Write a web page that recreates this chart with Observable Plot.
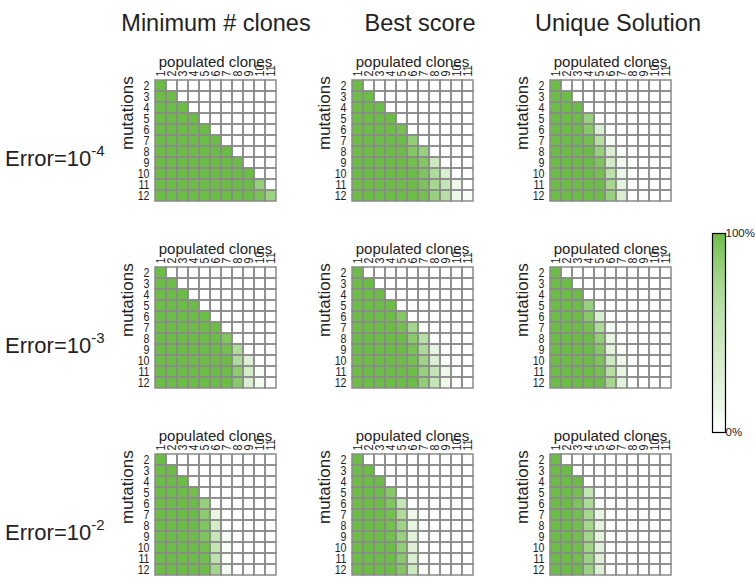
<!DOCTYPE html>
<html><head><meta charset="utf-8">
<script src="https://cdn.jsdelivr.net/npm/d3@7"></script>
<script src="https://cdn.jsdelivr.net/npm/@observablehq/plot@0.6"></script>
<style>
body{margin:0;background:#fff;}
#chart{position:relative;width:755px;height:579px;font-family:"Liberation Sans",Arial,sans-serif;overflow:hidden;color:#222}
.title{position:absolute;font-size:23.5px;text-align:center;width:300px;line-height:1;white-space:nowrap}
.rowlab{position:absolute;font-size:22px;line-height:1;white-space:nowrap}
.rowlab sup{font-size:15px;vertical-align:baseline;position:relative;top:-10px}
.panel{position:absolute}
</style></head><body><div id="chart"></div>
<script>
const mutations = [2,3,4,5,6,7,8,9,10,11,12];
const clones = [1,2,3,4,5,6,7,8,9,10,11];
const methods = ["Minimum # clones","Best score","Unique Solution"];
const titleCenters = [216, 420, 618];
const errorExps = ["-4","-3","-2"];
const legendLabels = ["100%","0%"];
const GREEN = "#6cbd45";

// percent of runs, one row per mutation count (2..12), entries for populated clones 1,2,...
const minClonesE4 = [
  [100],
  [100,100],
  [100,100,100],
  [100,100,100,100],
  [100,100,100,100,100],
  [100,100,100,100,100,100],
  [100,100,100,100,100,100,100],
  [100,100,100,100,100,100,100,100],
  [100,100,100,100,100,100,100,100,100],
  [100,100,100,100,100,100,100,100,100,72],
  [100,100,100,100,100,100,100,100,100,92,68]
];
const bestScoreE4 = [
  [100],
  [100,100],
  [100,100,100],
  [100,100,100,100],
  [100,100,100,100,95],
  [100,100,100,100,100,75],
  [100,100,100,100,100,85,70],
  [100,100,100,100,100,95,85,35],
  [100,100,100,100,100,100,88,55,25],
  [100,100,100,100,100,100,90,60,40,10],
  [100,100,100,100,100,100,95,70,50,12,3]
];
const uniqueE4 = [
  [100],
  [100,100],
  [100,100,100],
  [100,100,100,70],
  [100,100,100,82,25],
  [100,100,100,95,50,5],
  [100,100,100,100,70,25,3],
  [100,100,100,100,88,30,8],
  [100,100,100,100,95,45,12],
  [100,100,100,100,100,60,18],
  [100,100,100,100,100,70,25]
];
const minClonesE3 = [
  [100],
  [100,100],
  [100,100,100],
  [100,100,100,100],
  [100,100,100,100,100],
  [100,100,100,100,100,100],
  [100,100,100,100,100,100,86],
  [100,100,100,100,100,100,95,55],
  [100,100,100,100,100,100,100,55,22],
  [100,100,100,100,100,100,100,78,30,5],
  [100,100,100,100,100,100,100,82,25,8]
];
const bestScoreE3 = [
  [100],
  [100,100],
  [100,100,100],
  [100,100,100,100],
  [100,100,100,100,85],
  [100,100,100,100,95,62],
  [100,100,100,100,100,80,48],
  [100,100,100,100,100,92,55,15],
  [100,100,100,100,100,95,65,25,3],
  [100,100,100,100,100,100,70,40,10],
  [100,100,100,100,100,100,75,40,10]
];
const uniqueE3 = [
  [100],
  [100,100],
  [100,100,100],
  [100,100,100,70],
  [100,100,100,82,25],
  [100,100,100,95,55,5],
  [100,100,100,100,75,15],
  [100,100,100,100,85,20,4],
  [100,100,100,100,90,35,10],
  [100,100,100,100,95,50,15],
  [100,100,100,100,100,60,20]
];
const minClonesE2 = [
  [100],
  [100,100],
  [100,100,100],
  [100,100,100,97],
  [100,100,100,100,70],
  [100,100,100,100,78,15],
  [100,100,100,100,88,30],
  [100,100,100,100,88,40,5],
  [100,100,100,100,95,40,3],
  [100,100,100,100,97,45,3],
  [100,100,100,100,100,62,8]
];
const bestScoreE2 = [
  [100],
  [100,100],
  [100,100,100],
  [100,100,100,82],
  [100,100,100,88,40],
  [100,100,100,95,55,10],
  [100,100,100,95,65,15],
  [100,100,100,95,70,20],
  [100,100,100,100,75,22],
  [100,100,100,100,80,25,3],
  [100,100,100,100,85,35,5]
];
const uniqueE2 = [
  [100],
  [100,100],
  [100,100,100],
  [100,100,95,40],
  [100,100,90,55,5],
  [100,100,95,60,15],
  [100,100,95,62,18],
  [100,100,97,62,18],
  [100,100,97,65,20],
  [100,100,97,68,22],
  [100,100,100,68,25]
];

const panels = [
  [minClonesE4, bestScoreE4, uniqueE4],
  [minClonesE3, bestScoreE3, uniqueE3],
  [minClonesE2, bestScoreE2, uniqueE2]
];

const gridLefts = [151, 348, 546];
const gridTops = [77, 264, 451];
const GW = 128, GH = 126;
const ML = 46, MT = 48, MR = 3, MB = 3;
const FONT = '"Liberation Sans", Arial, sans-serif';

const chart = document.getElementById("chart");
const colorScale = {type: "linear", domain: [0, 100], range: ["#ffffff", GREEN]};
const gridCells = d3.cross(mutations, clones).map(([m, c]) => ({m, c}));

// narrow the tick digits along their reading direction (the reference uses a condensed face)
function condenseTicks(svg) {
  d3.select(svg).selectAll('g[aria-label$="tick label"] text').each(function() {
    const t = this.getAttribute("transform") || "";
    this.setAttribute("transform", t + " scale(0.82,1)");
  });
}

function makePanel(values) {
  const data = [];
  values.forEach((row, i) => row.forEach((v, j) => data.push({m: mutations[i], c: clones[j], v})));
  const svg = Plot.plot({
    width: ML + GW + MR, height: MT + GH + MB,
    marginLeft: ML, marginTop: MT, marginRight: MR, marginBottom: MB,
    style: {fontFamily: FONT, fontSize: "13px", color: "#222", background: "transparent", overflow: "visible"},
    x: {type: "band", domain: clones, padding: 0, axis: null},
    y: {type: "band", domain: mutations, padding: 0, axis: null},
    color: colorScale,
    marks: [
      Plot.cell(data, {x: "c", y: "m", fill: "v", inset: 0}),
      Plot.cell(gridCells, {x: "c", y: "m", fill: "none", stroke: "#8a8a8a", strokeWidth: 1.5, inset: 0}),
      Plot.axisX({anchor: "top", tickSize: 0, tickRotate: -90, tickPadding: 1, label: null, fontSize: 13}),
      Plot.axisY({anchor: "left", tickSize: 0, tickPadding: 2, label: null, fontSize: 13}),
      Plot.text(["populated clones"], {frameAnchor: "top", dy: -21, fontSize: 15, fill: "#222"}),
      Plot.text(["mutations"], {frameAnchor: "left", rotate: -90, dx: -23.5, dy: 9.5, fontSize: 17, fill: "#222"})
    ]
  });
  condenseTicks(svg);
  return svg;
}

panels.forEach((row, r) => row.forEach((vals, c) => {
  const svg = makePanel(vals);
  svg.classList.add("panel");
  svg.style.left = (gridLefts[c] - ML) + "px";
  svg.style.top = (gridTops[r] - MT) + "px";
  chart.appendChild(svg);
}));

methods.forEach((t, c) => {
  const d = document.createElement("div");
  d.className = "title";
  d.textContent = t;
  d.style.left = (titleCenters[c] - 150) + "px";
  d.style.top = "12px";
  chart.appendChild(d);
});

errorExps.forEach((e, r) => {
  const d = document.createElement("div");
  d.className = "rowlab";
  d.innerHTML = "Error=10<sup>" + e + "</sup>";
  d.style.left = "5px";
  d.style.top = (gridTops[r] + 71) + "px";
  chart.appendChild(d);
});

// colour bar legend, drawn from the same colour scale
const legend = Plot.plot({
  width: 60, height: 220,
  marginLeft: 10, marginRight: 37, marginTop: 12, marginBottom: 9,
  style: {fontFamily: FONT, fontSize: "11.5px", color: "#222", background: "transparent", overflow: "visible"},
  x: {axis: null, domain: [0, 1]},
  y: {domain: [0, 100], axis: null},
  color: colorScale,
  marks: [
    Plot.rectY(d3.range(0, 100, 0.5), {x1: 0, x2: 1, y1: d => d, y2: d => d + 0.5, fill: d => d + 0.25}),
    Plot.frame({stroke: "#000", strokeWidth: 1.2}),
    Plot.text([100, 0], {x: 1, y: d => d, text: (d, i) => legendLabels[i], textAnchor: "start", dx: 0, fill: "#222"})
  ]
});
legend.classList.add("panel");
legend.style.left = (712 - 10) + "px";
legend.style.top = (233 - 12) + "px";
chart.appendChild(legend);
</script></body></html>
